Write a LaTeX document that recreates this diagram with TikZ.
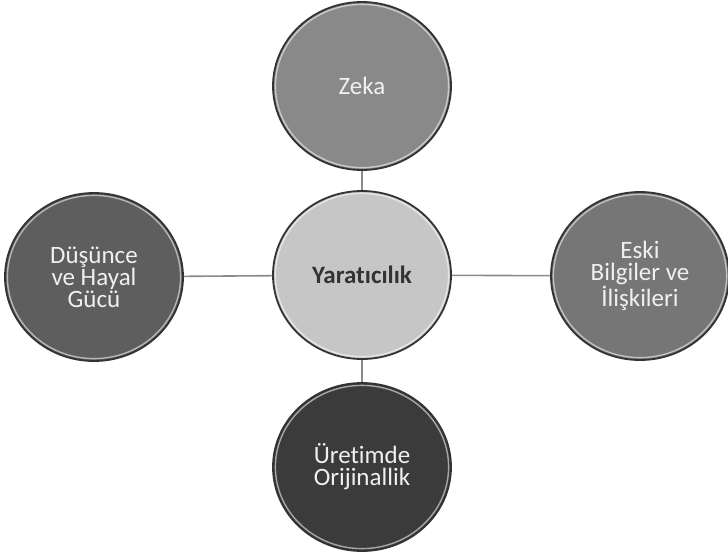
\documentclass[tikz,border=0pt]{standalone}
\usepackage{fontspec}
\setmainfont{Carlito}[Ligatures=NoCommon]
\usetikzlibrary{shapes.geometric}

\definecolor{rimdark}{HTML}{333333}
\definecolor{zekafill}{HTML}{898989}
\definecolor{corefill}{HTML}{C6C6C6}
\definecolor{dusfill}{HTML}{5E5E5E}
\definecolor{eskifill}{HTML}{767676}
\definecolor{uretfill}{HTML}{3B3B3B}
\definecolor{linkgray}{HTML}{8A8A8A}

\begin{document}
\begin{tikzpicture}[x=0.5pt, y=-0.5pt,
	bubble/.style={ellipse, draw=rimdark, line width=0.9pt, fill=#1,
		minimum width=89pt, minimum height=84pt, inner sep=0pt,
		align=center, text=white!94!black,
		font=\fontsize{12.5}{11}\selectfont,
		path picture={\draw[#1!45!white, line width=0.7pt]
			(path picture bounding box.center) ellipse [x radius=43.3pt, y radius=40.8pt];}},
	link/.style={draw=linkgray, line width=0.8pt}]
			\useasboundingbox (0,0) rectangle (728,559);

			\node[bubble=zekafill] (zeka) at (362,86) {Zeka};
			\node[bubble=corefill, text=black!80, font=\fontsize{12.5}{11}\selectfont\bfseries] (yaraticilik) at (362,275) {Yaratıcılık};
			\node[bubble=dusfill] (dusunce) at (94,277) {Düşünce\\ve Hayal\\Gücü};
			\node[bubble=eskifill] (eski) at (640,276) {Eski\\Bilgiler ve\\İlişkileri};
			\node[bubble=uretfill] (uretim) at (362,467) {Üretimde\\Orijinallik};

			\draw[link] (yaraticilik) -- (zeka);
			\draw[link] (yaraticilik) -- (uretim);
			\draw[link] (yaraticilik) -- (dusunce);
			\draw[link] (yaraticilik) -- (eski);
		\end{tikzpicture}
\end{document}
